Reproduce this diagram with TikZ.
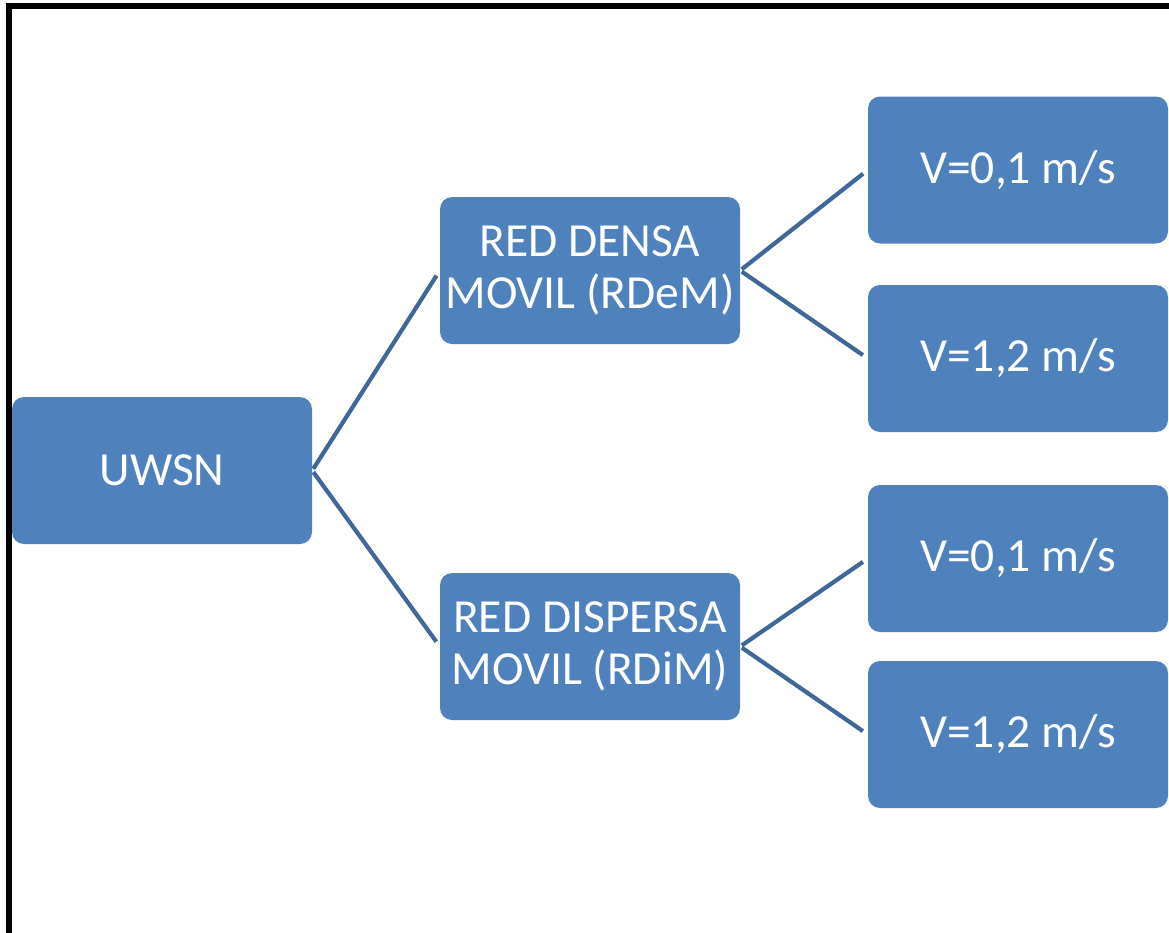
\documentclass[tikz,border=0pt]{standalone}
\usepackage{fontspec}
\setmainfont{Carlito}
\usetikzlibrary{positioning}
\definecolor{cajaazul}{HTML}{4F81BD}
\definecolor{lineaazul}{HTML}{3F6798}

\begin{document}
\begin{tikzpicture}[x=1pt,y=-1pt,
  caja/.style={fill=cajaazul,rounded corners=12pt,minimum width=300pt,
    minimum height=147pt,inner sep=0pt,text=white,align=center,
    font=\fontsize{47.5}{52}\selectfont},
  rama/.style={draw=lineaazul,line width=4.2pt,shorten <=2pt,shorten >=6pt}]

\useasboundingbox (0,0) rectangle (1169,932);

%========================
% Marco
%========================

\draw[line width=6pt] (8.5,945) -- (8.5,6.3) -- (1185,6.3);

%========================
% Cajas
%========================

% raiz
\node[caja] (uwsn) at (162,470.5) {UWSN};

% tipos de red
\node[caja] (rdem) at (590,270.5) {RED DENSA\\MOVIL (RDeM)};
\node[caja] (rdim) at (590,646.5) {RED DISPERSA\\MOVIL (RDiM)};

% velocidades
\foreach \nom/\y/\v in {v1/170/{0,1},v2/358.5/{1,2},v3/558.5/{0,1},v4/734.5/{1,2}}
{
    \node[caja] (\nom) at (1018,\y) {V=\v\ m/s};
}

%========================
% Ramas
%========================

\draw[rama] (uwsn.east) -- (rdem.west);
\draw[rama] (uwsn.east) -- (rdim.west);

\foreach \a/\b in {rdem/v1,rdem/v2,rdim/v3,rdim/v4}
{
    \draw[rama] (\a.east) -- (\b.west);
}
\end{tikzpicture}
\end{document}
